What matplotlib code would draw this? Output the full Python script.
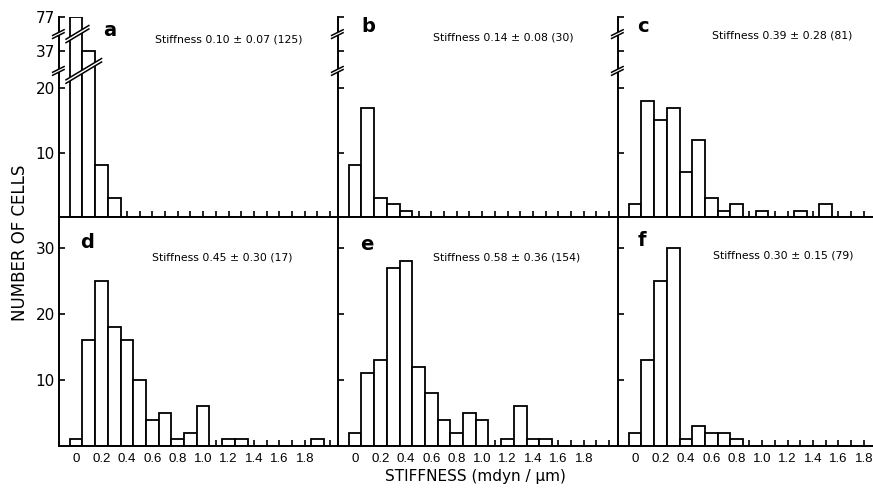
import numpy as np
import matplotlib
matplotlib.use("Agg")
from matplotlib import pyplot as plt
from matplotlib.lines import Line2D
from matplotlib.patches import Polygon

# bin centres (mdyn/um), one bin every 0.1
bins = np.round(np.arange(0, 2.0, 0.1), 1)

# number of cells per bin
counts_a = [77, 37, 8, 3, 0, 0, 0, 0, 0, 0, 0, 0, 0, 0, 0, 0, 0, 0, 0, 0]
counts_b = [8, 17, 3, 2, 1, 0, 0, 0, 0, 0, 0, 0, 0, 0, 0, 0, 0, 0, 0, 0]
counts_c = [2, 18, 15, 17, 7, 12, 3, 1, 2, 0, 1, 0, 0, 1, 0, 2, 0, 0, 0, 0]
counts_d = [1, 16, 25, 18, 16, 10, 4, 5, 1, 2, 6, 0, 1, 1, 0, 0, 0, 0, 0, 1]
counts_e = [2, 11, 13, 27, 28, 12, 8, 4, 2, 5, 4, 0, 1, 6, 1, 1, 0, 0, 0, 0]
counts_f = [2, 13, 25, 30, 1, 3, 2, 2, 1, 0, 0, 0, 0, 0, 0, 0, 0, 0, 0, 0]

panel_letters = ["a", "b", "c", "d", "e", "f"]
stiffness_notes = [
    "Stiffness 0.10 \u00b1 0.07 (125)",
    "Stiffness 0.14 \u00b1 0.08 (30)",
    "Stiffness 0.39 \u00b1 0.28 (81)",
    "Stiffness 0.45 \u00b1 0.30 (17)",
    "Stiffness 0.58 \u00b1 0.36 (154)",
    "Stiffness 0.30 \u00b1 0.15 (79)",
]

# top row has a broken count axis: 0-20 linear, then squeezed up to 37 and 77
top_ticks = [10, 20, 37, 77]
bottom_ticks = [10, 20, 30]
break_levels = [28, 57]
x_tick_labels = ["0", "0.2", "0.4", "0.6", "0.8", "1.0", "1.2", "1.4", "1.6", "1.8"]

# piecewise mapping for the broken axis (value -> drawn height)
brk_in = [0, 20, 37, 77]
brk_out = [0, 20, 25.7, 31.1]


def fwd(y):
    return np.interp(y, brk_in, brk_out)


def inv(y):
    return np.interp(y, brk_out, brk_in)


W, H = 873, 488
fig = plt.figure(figsize=(W / 100, H / 100), dpi=100)
plt.rcParams["font.family"] = ["DejaVu Sans"]
TICKFONT = ["Liberation Sans", "DejaVu Sans"]

PX_PER_UNIT = 127.0
X0 = -0.135
LW = 1.4


def px_axes(left, top, width, height):
    return fig.add_axes([left / W, (H - top - height) / H, width / W, height / H])


def fig_xy(px, py):
    # pixel coords measured from the top-left corner -> figure fraction
    return px / W, 1 - py / H


def break_mark(ax, x_left, x_right, level, slope=0.6, gap=3.5):
    # double slanted line with a white gap, drawn in display pixels
    p1 = ax.transData.transform((x_left, level))
    p2 = ax.transData.transform((x_right, level))
    cx, cy = (p1[0] + p2[0]) / 2, p1[1]
    hw = (p2[0] - p1[0]) / 2
    xs = np.array([cx - hw, cx + hw])
    ys = cy + slope * (xs - cx)
    inv_fig = fig.transFigure.inverted()
    lo = inv_fig.transform(np.column_stack([xs, ys - gap / 2]))
    hi = inv_fig.transform(np.column_stack([xs, ys + gap / 2]))
    poly = Polygon([lo[0], lo[1], hi[1], hi[0]], closed=True, facecolor="white",
                   edgecolor="none", transform=fig.transFigure, zorder=10)
    fig.add_artist(poly)
    for seg in (lo, hi):
        fig.add_artist(Line2D(seg[:, 0], seg[:, 1], color="black", lw=1.1,
                              transform=fig.transFigure, zorder=11))


col_left = [59, 338, 618]
col_width = [279, 280, 255]
row_top = [16.7, 217]
row_height = [200.3, 229]

all_counts = [counts_a, counts_b, counts_c, counts_d, counts_e, counts_f]
letter_pos = [(110, 30), (368, 27), (643, 27), (87, 243), (367, 245), (642, 240)]
note_pos = [(155, 40), (433, 38), (712, 35), (152, 258), (433, 257), (713, 256)]

axes = []
for i, counts in enumerate(all_counts):
    row, col = divmod(i, 3)
    ax = px_axes(col_left[col], row_top[row], col_width[col], row_height[row])
    axes.append(ax)
    x1 = X0 + col_width[col] / PX_PER_UNIT
    ax.set_xlim(X0, x1)
    ax.set_axisbelow(True)
    if row == 0:
        ax.set_yscale("function", functions=(fwd, inv))
        ax.set_ylim(0, 77)
        ax.set_yticks(top_ticks)
    else:
        ax.set_ylim(0, row_height[1] / 6.6)
        ax.set_yticks(bottom_ticks)

    ax.bar(bins, counts, width=0.1, facecolor="white", edgecolor="black",
           linewidth=1.3, zorder=2)

    for s in ("top", "right"):
        ax.spines[s].set_visible(False)
    for s in ("left", "bottom"):
        ax.spines[s].set_linewidth(LW)
        ax.spines[s].set_zorder(3)

    xt = np.round(np.arange(0, x1, 0.1), 1)
    ax.set_xticks(xt)
    if row == 1:
        labels = []
        for v in xt:
            k = int(round(v * 10))
            labels.append(x_tick_labels[k // 2] if k % 2 == 0 and k // 2 < len(x_tick_labels) else "")
        ax.set_xticklabels(labels, fontsize=9.5, family=TICKFONT)
    else:
        ax.set_xticklabels([])
    if col == 0:
        ax.set_yticklabels([str(t) for t in (top_ticks if row == 0 else bottom_ticks)], fontsize=11)
    else:
        ax.set_yticklabels([])
    ax.tick_params(axis="x", direction="in", length=4, width=1.2, pad=5)
    ax.tick_params(axis="y", direction="in", length=4, width=1.2, pad=3)
    ax.set_facecolor("none")

    fig.text(*fig_xy(*letter_pos[i]), panel_letters[i], fontsize=14, fontweight="bold",
             ha="center", va="center")
    fig.text(*fig_xy(*note_pos[i]), stiffness_notes[i], fontsize=7.8,
             ha="left", va="center")

# breaks on the top-row count axis, and across the tall bars of panel a
for ax in axes[:3]:
    for lvl in break_levels:
        xl = ax.get_xlim()[0]
        break_mark(ax, xl - 0.05, xl + 0.04, lvl, slope=0.5, gap=3)
for lvl in break_levels:
    tall = [b for b, c in zip(bins, counts_a) if c > lvl]
    break_mark(axes[0], min(tall) - 0.08, max(tall) + 0.1, lvl, slope=0.6, gap=3.5)

fig.text(*fig_xy(20, 243), "NUMBER OF CELLS", rotation=90, fontsize=12,
         ha="center", va="center")
fig.text(*fig_xy(475, 476), "STIFFNESS (mdyn / \u03bcm)", fontsize=11,
         ha="center", va="center")

fig.savefig("out.png", dpi=100, facecolor="white")
